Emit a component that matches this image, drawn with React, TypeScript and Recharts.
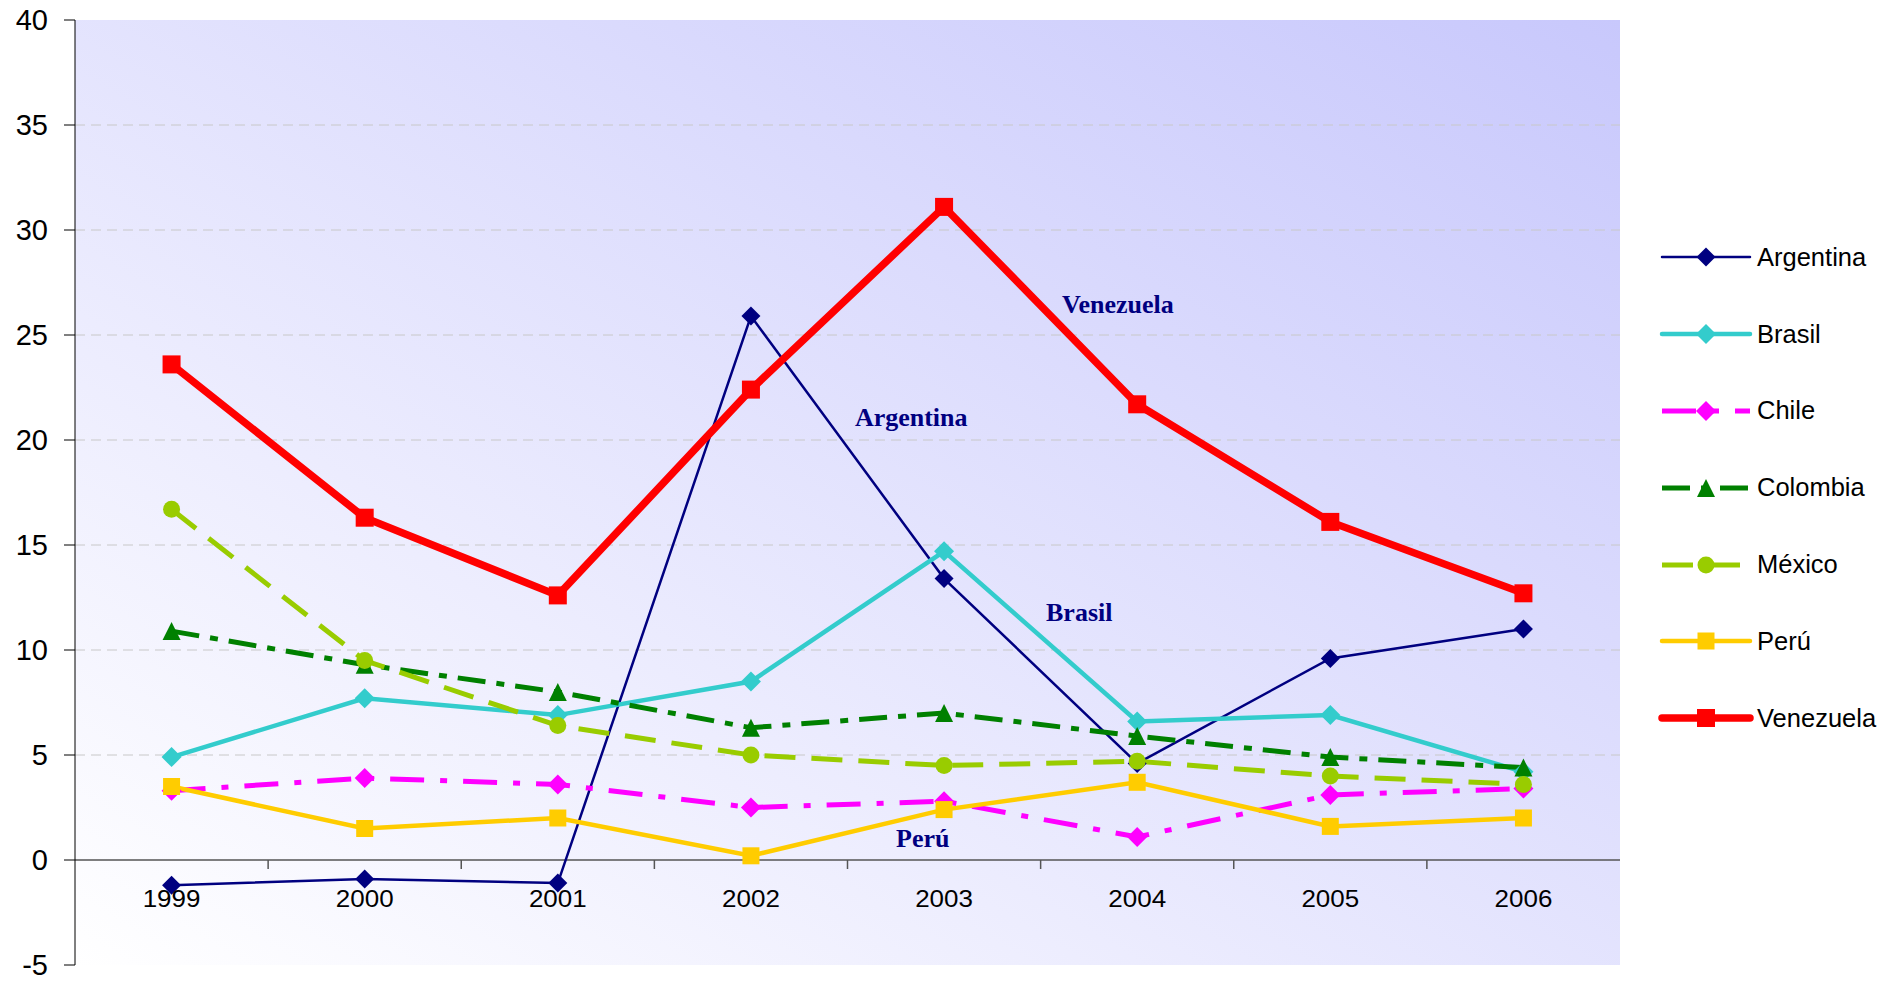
import React from "react";
import {
  LineChart,
  Line,
  XAxis,
  YAxis,
  CartesianGrid,
  ReferenceLine,
  ReferenceDot,
  Legend,
} from "recharts";

// values
const years = ["1999", "2000", "2001", "2002", "2003", "2004", "2005", "2006"];
const argentina = [-1.2, -0.9, -1.1, 25.9, 13.4, 4.6, 9.6, 11.0];
const brasil = [4.9, 7.7, 6.9, 8.5, 14.7, 6.6, 6.9, 4.2];
const chile = [3.3, 3.9, 3.6, 2.5, 2.8, 1.1, 3.1, 3.4];
const colombia = [10.9, 9.3, 8.0, 6.3, 7.0, 5.9, 4.9, 4.4];
const mexico = [16.7, 9.5, 6.4, 5.0, 4.5, 4.7, 4.0, 3.6];
const peru = [3.5, 1.5, 2.0, 0.2, 2.4, 3.7, 1.6, 2.0];
const venezuela = [23.6, 16.3, 12.6, 22.4, 31.1, 21.7, 16.1, 12.7];
const yTicks = [-5, 0, 5, 10, 15, 20, 25, 30, 35, 40];

// text labels placed inside the plot (x in category units, y in data units)
const annotations = [
  { text: "Venezuela", x: 4.9, y: 26.5 },
  { text: "Argentina", x: 3.83, y: 21.1 },
  { text: "Brasil", x: 4.7, y: 11.8 },
  { text: "Perú", x: 3.89, y: 1.05 },
];

const series = [
  { key: "Argentina", values: argentina, color: "#000080", width: 2.5, dash: undefined, marker: "diamond", size: 19 },
  { key: "Brasil", values: brasil, color: "#33CCCC", width: 4.5, dash: undefined, marker: "diamond", size: 20 },
  { key: "Chile", values: chile, color: "#FF00FF", width: 5, dash: "34 16 7 16", marker: "diamond", size: 20 },
  { key: "Colombia", values: colombia, color: "#008000", width: 5, dash: "28 11 8 11", marker: "triangle", size: 18 },
  { key: "México", values: mexico, color: "#99CC00", width: 5, dash: "31 16", marker: "circle", size: 17 },
  { key: "Perú", values: peru, color: "#FFCC00", width: 4.5, dash: undefined, marker: "square", size: 17 },
  { key: "Venezuela", values: venezuela, color: "#FF0000", width: 7.5, dash: undefined, marker: "square", size: 18 },
];

const data = years.map((year, i) => {
  const row: Record<string, number | string> = { idx: i, year };
  series.forEach((s) => {
    row[s.key] = s.values[i];
  });
  return row;
});

const boundaries = years.slice(1).map((_, i) => i + 0.5);

const SANS = "'Liberation Sans', Arial, sans-serif";
const SERIF = "'Liberation Serif', 'Times New Roman', serif";

function Marker({ cx, cy, shape, color, size }: any) {
  if (cx == null || cy == null) return null;
  const h = size / 2;
  if (shape === "diamond")
    return <polygon points={`${cx},${cy - h} ${cx + h},${cy} ${cx},${cy + h} ${cx - h},${cy}`} fill={color} />;
  if (shape === "square")
    return <rect x={cx - h} y={cy - h} width={size} height={size} fill={color} />;
  if (shape === "triangle")
    return <polygon points={`${cx},${cy - h} ${cx + h},${cy + h} ${cx - h},${cy + h}`} fill={color} />;
  return <circle cx={cx} cy={cy} r={h} fill={color} />;
}

// year labels sit just under the zero line, slightly wide like the original
const YearTick = ({ x, y, payload }: any) => (
  <text
    transform={`translate(${x},${y - 58}) scale(1.13,1)`}
    textAnchor="middle"
    fontSize={23}
    fontFamily={SANS}
    fill="#000"
  >
    {years[payload.value]}
  </text>
);

const LegendContent = () => (
  <div style={{ display: "flex", flexDirection: "column", fontFamily: SANS }}>
    {series.map((s) => (
      <div key={s.key} style={{ height: 76.8, display: "flex", alignItems: "center" }}>
        <svg width={96} height={30}>
          <line
            x1={4}
            y1={15}
            x2={92}
            y2={15}
            stroke={s.color}
            strokeWidth={s.width}
            strokeDasharray={s.dash}
            strokeLinecap={s.dash ? "butt" : "round"}
          />
          <Marker cx={48} cy={15} shape={s.marker} color={s.color} size={s.size} />
        </svg>
        <span style={{ marginLeft: 3, fontSize: 25.5, color: "#000" }}>{s.key}</span>
      </div>
    ))}
  </div>
);

export default function App() {
  return (
    <div style={{ width: 1899, height: 981, overflow: "hidden", fontFamily: SANS }}>
      <style>{"body{margin:0}"}</style>
      <LineChart
        width={1899}
        height={981}
        data={data}
        margin={{ top: 20, right: 279, bottom: 0, left: 0 }}
      >
        <defs>
          <linearGradient id="plotBg" x1="0" y1="1" x2="1" y2="0">
            <stop offset="0%" stopColor="#ffffff" />
            <stop offset="100%" stopColor="#c8c8fc" />
          </linearGradient>
        </defs>
        <CartesianGrid
          vertical={false}
          fill="url(#plotBg)"
          stroke="#c8c8c8"
          strokeDasharray="10 6"
          horizontalValues={[5, 10, 15, 20, 25, 30, 35]}
        />
        <XAxis
          dataKey="idx"
          type="number"
          domain={[-0.5, 7.5]}
          ticks={years.map((_, i) => i)}
          interval={0}
          height={16}
          axisLine={false}
          tickLine={false}
          tickSize={0}
          tickMargin={0}
          tick={<YearTick />}
        />
        <YAxis
          domain={[-5, 40]}
          ticks={yTicks}
          interval={0}
          width={75}
          axisLine={{ stroke: "#000", strokeWidth: 1 }}
          tickLine={{ stroke: "#000" }}
          tickSize={11}
          tickMargin={16}
          tick={{ fontSize: 29, fill: "#000", fontFamily: SANS }}
        />
        <ReferenceLine y={0} stroke="#555" strokeWidth={1.5} />
        {boundaries.map((b) => (
          <ReferenceLine
            key={b}
            segment={[{ x: b, y: 0 }, { x: b, y: -0.43 }]}
            stroke="#555"
            strokeWidth={1.5}
          />
        ))}
        {series.map((s) => (
          <Line
            key={s.key}
            dataKey={s.key}
            type="linear"
            stroke={s.color}
            strokeWidth={s.width}
            strokeDasharray={s.dash}
            isAnimationActive={false}
            activeDot={false}
            dot={(p: any) => (
              <Marker key={`${s.key}-${p.index}`} cx={p.cx} cy={p.cy} shape={s.marker} color={s.color} size={s.size} />
            )}
          />
        ))}
        {annotations.map((a) => (
          <ReferenceDot
            key={a.text}
            x={a.x}
            y={a.y}
            r={0}
            fill="none"
            stroke="none"
            label={{
              value: a.text,
              position: "center",
              fill: "#000080",
              fontSize: 26,
              fontWeight: 700,
              fontFamily: SERIF,
            }}
          />
        ))}
        <Legend
          layout="vertical"
          align="center"
          verticalAlign="middle"
          wrapperStyle={{ left: 1658, top: 219, width: 240 }}
          content={<LegendContent />}
        />
      </LineChart>
    </div>
  );
}
